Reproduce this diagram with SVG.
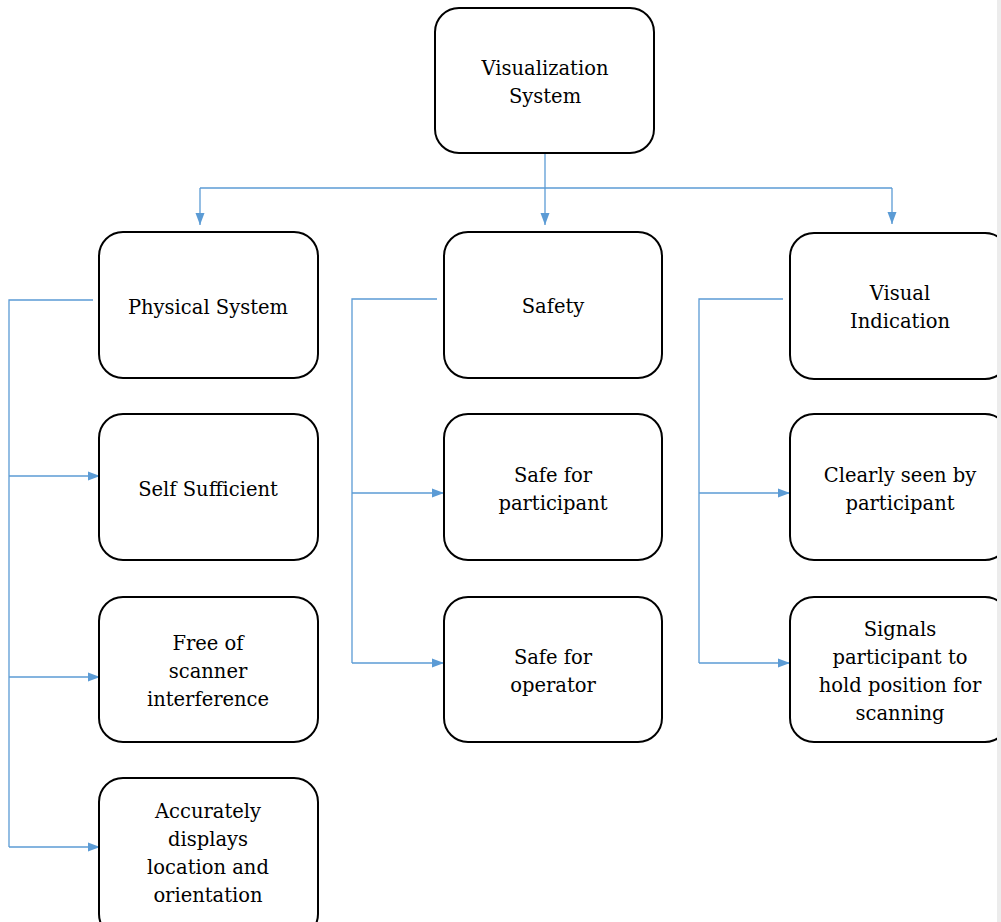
<svg xmlns="http://www.w3.org/2000/svg" width="1001" height="922" viewBox="0 0 1001 922">
<style>
.box{fill:#fff;stroke:#000;stroke-width:2}
.t{font-family:"DejaVu Serif","Liberation Serif",serif;font-size:19.5px;fill:#000;text-anchor:middle}
.c{fill:none;stroke:#5b9bd5;stroke-width:1.3}
</style>
<defs>
<marker id="a" viewBox="0 0 12 10" refX="12" refY="5" markerWidth="12" markerHeight="10" markerUnits="userSpaceOnUse" orient="auto">
<path d="M0,0.5 L12,5 L0,9.5 Z" fill="#5b9bd5"/>
</marker>
</defs>
<rect width="1001" height="922" fill="#fff"/>
<g id="connectors">
<path class="c" d="M545,153 V225" marker-end="url(#a)"/>
<path class="c" d="M200,188 H892"/>
<path class="c" d="M200,188 V225" marker-end="url(#a)"/>
<path class="c" d="M892,188 V224" marker-end="url(#a)"/>
<path class="c" d="M93,300 H9 V847"/>
<path class="c" d="M9,476 H100" marker-end="url(#a)"/>
<path class="c" d="M9,677 H100" marker-end="url(#a)"/>
<path class="c" d="M9,847 H100" marker-end="url(#a)"/>
<path class="c" d="M437,299 H352 V663"/>
<path class="c" d="M352,493 H444" marker-end="url(#a)"/>
<path class="c" d="M352,663 H444" marker-end="url(#a)"/>
<path class="c" d="M783,299 H699 V663"/>
<path class="c" d="M699,493 H790" marker-end="url(#a)"/>
<path class="c" d="M699,663 H790" marker-end="url(#a)"/>
</g>
<g id="n0"><rect class="box" x="435" y="8" width="219" height="145" rx="24"/><text class="t" x="545" y="75">Visualization</text><text class="t" x="545" y="103">System</text></g>
<g id="n1"><rect class="box" x="99" y="232" width="219" height="146" rx="24"/><text class="t" x="208" y="314">Physical System</text></g>
<g id="n2"><rect class="box" x="444" y="232" width="218" height="146" rx="24"/><text class="t" x="553" y="313">Safety</text></g>
<g id="n3"><rect class="box" x="790" y="233" width="219" height="146" rx="24"/><text class="t" x="900" y="300">Visual</text><text class="t" x="900" y="328">Indication</text></g>
<g id="n4"><rect class="box" x="99" y="414" width="219" height="146" rx="24"/><text class="t" x="208" y="496">Self Sufficient</text></g>
<g id="n5"><rect class="box" x="444" y="414" width="218" height="146" rx="24"/><text class="t" x="553" y="482">Safe for</text><text class="t" x="553" y="510">participant</text></g>
<g id="n6"><rect class="box" x="790" y="414" width="219" height="146" rx="24"/><text class="t" x="900" y="482">Clearly seen by</text><text class="t" x="900" y="510">participant</text></g>
<g id="n7"><rect class="box" x="99" y="597" width="219" height="145" rx="24"/><text class="t" x="208" y="650">Free of</text><text class="t" x="208" y="678">scanner</text><text class="t" x="208" y="706">interference</text></g>
<g id="n8"><rect class="box" x="444" y="597" width="218" height="145" rx="24"/><text class="t" x="553" y="664">Safe for</text><text class="t" x="553" y="692">operator</text></g>
<g id="n9"><rect class="box" x="790" y="597" width="219" height="145" rx="24"/><text class="t" x="900" y="636">Signals</text><text class="t" x="900" y="664">participant to</text><text class="t" x="900" y="692">hold position for</text><text class="t" x="900" y="720">scanning</text></g>
<g id="n10"><rect class="box" x="99" y="778" width="219" height="160" rx="24"/><text class="t" x="208" y="818">Accurately</text><text class="t" x="208" y="846">displays</text><text class="t" x="208" y="874">location and</text><text class="t" x="208" y="902">orientation</text></g>
<rect x="997" y="0" width="4" height="922" fill="#ececec"/>
</svg>
